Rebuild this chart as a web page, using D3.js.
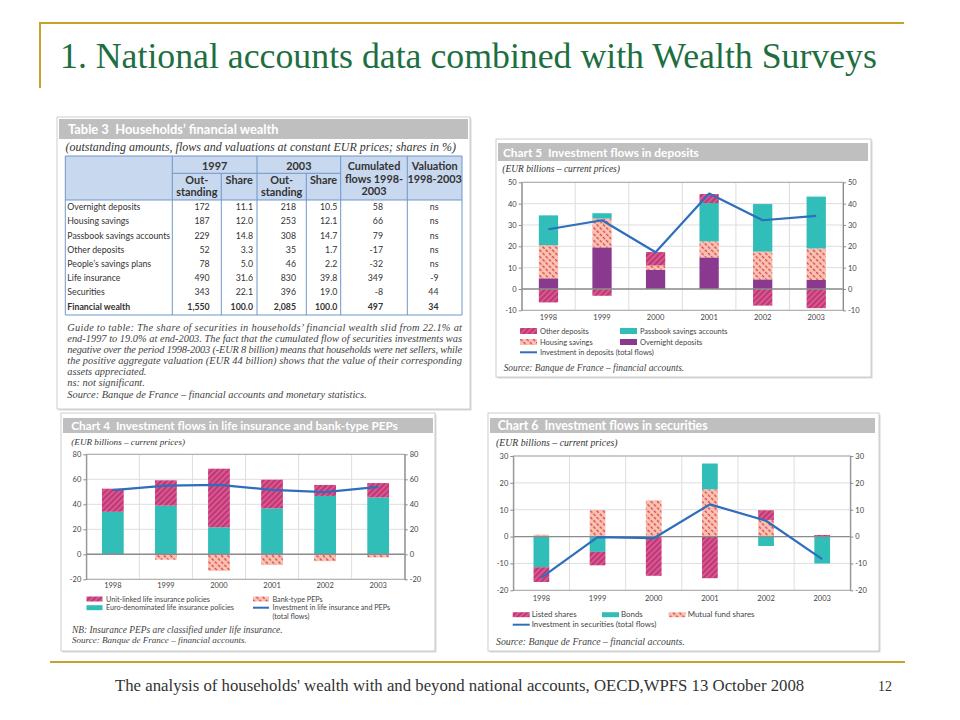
<!DOCTYPE html>
<html><head><meta charset="utf-8">
<script src="https://cdn.jsdelivr.net/npm/d3@7"></script>
<style>body{margin:0;background:#fff}svg{display:block}</style>
</head><body>
<svg id="s" width="960" height="720"></svg>
<script>
// ---------- DATA ----------
const years = ["1998","1999","2000","2001","2002","2003"];

// Chart 5: Investment flows in deposits (EUR bn)
const overnightDeposits = [5, 19.5, 9, 14.8, 4.5, 4.2];
const housingSavings    = [15.5, 13.5, 2, 7.5, 13, 14.8];
const passbookSavings   = [14, 2.5, 0, 18, 22.3, 24.3];
const otherDeposits     = [-6.3, -3.2, 6.3, 4.2, -7.8, -9];
const depositsTotal     = [28, 32.2, 17.2, 44.7, 32.2, 34.3];
const ticks5 = [-10, 0, 10, 20, 30, 40, 50];

// Chart 4: Investment flows in life insurance and bank-type PEPs
const unitLinked    = [18.5, 20.3, 46.9, 22.9, 8.8, 11.5];
const euroLife      = [34, 38.9, 21.6, 36.8, 46.7, 45.5];
const bankPEPs      = [0, -4.3, -13.2, -8.5, -5.5, -2.5];
const lifeTotal     = [51.3, 55, 55.5, 51.5, 49.7, 54];
const ticks4 = [-20, 0, 20, 40, 60, 80];

// Chart 6: Investment flows in securities
const listedShares   = [-5.5, -5, -14.6, -15.5, 3.6, 0.6];
const bonds          = [-11.4, -5.7, 0, 9.6, -3.5, -10];
const mutualFunds    = [0.7, 9.9, 13.5, 17.6, 6.2, 0];
const securitiesTotal= [-15.3, -0.2, -0.6, 12, 5.9, -8.4];
const ticks6 = [-20, -10, 0, 10, 20, 30];

// Table 3: Households' financial wealth
const tableRows = ["Overnight deposits","Housing savings","Passbook savings accounts","Other deposits","People\u2019s savings plans","Life insurance","Securities","Financial wealth"];
const outstanding1997 = ["172","187","229","52","78","490","343","1,550"];
const share1997       = ["11.1","12.0","14.8","3.3","5.0","31.6","22.1","100.0"];
const outstanding2003 = ["218","253","308","35","46","830","396","2,085"];
const share2003       = ["10.5","12.1","14.7","1.7","2.2","39.8","19.0","100.0"];
const cumFlows        = ["58","66","79","-17","-32","349","-8","497"];
const valuation       = ["ns","ns","ns","ns","ns","-9","44","34"];

// ---------- STYLE ----------
const SANS = "Lato, 'Open Sans', sans-serif";
const SERIF = "'Liberation Serif', 'DejaVu Serif', serif";
const TEAL = "#31bdb8", PURPLE = "#8a3a8e", BLUE = "#2e6ebd", GOLD = "#c9a22c";

const svg = d3.select("#s");
const defs = svg.append("defs");
function hatch(id, bg, fg, angle, sw, size, dash) {
  const p = defs.append("pattern").attr("id", id).attr("patternUnits", "userSpaceOnUse")
    .attr("width", size).attr("height", size).attr("patternTransform", `rotate(${angle})`);
  p.append("rect").attr("width", size).attr("height", size).attr("fill", bg);
  const l = p.append("line").attr("x1", size/2).attr("y1", 0).attr("x2", size/2).attr("y2", size)
    .attr("stroke", fg).attr("stroke-width", sw);
  if (dash) l.attr("stroke-dasharray", dash);
}
hatch("pinkHatch", "#e0548f", "#a12d68", 45, 1.3, 4);
hatch("salmonHatch", "#fbc6ab", "#d8406f", -45, 1.4, 4.5, "3 1.5");

function fit(sel, w) {
  const l = sel.node().getComputedTextLength();
  if (l > 0) sel.attr("font-size", parseFloat(sel.attr("font-size")) * w / l);
  return parseFloat(sel.attr("font-size"));
}

// ---------- SLIDE FRAME ----------
svg.append("line").attr("x1", 40).attr("x2", 904).attr("y1", 23).attr("y2", 23).attr("stroke", GOLD).attr("stroke-width", 2);
svg.append("line").attr("x1", 40).attr("x2", 40).attr("y1", 22).attr("y2", 88).attr("stroke", GOLD).attr("stroke-width", 2);
fit(svg.append("text").attr("x", 60).attr("y", 68).attr("font-family", SERIF).attr("font-size", 30)
  .attr("fill", "#1d6f42").text("1. National accounts data combined with Wealth Surveys"), 817);
svg.append("line").attr("x1", 50).attr("x2", 905).attr("y1", 662).attr("y2", 662).attr("stroke", GOLD).attr("stroke-width", 2);
fit(svg.append("text").attr("x", 115).attr("y", 691).attr("font-family", SERIF).attr("font-size", 14)
  .attr("fill", "#333").text("The analysis of households' wealth with and beyond national accounts, OECD,WPFS 13 October 2008"), 690);
svg.append("text").attr("x", 878).attr("y", 691).attr("font-family", SERIF).attr("font-size", 14).attr("fill", "#333").text("12");

function panel(g, p, h) {
  g.append("rect").attr("x", p[0]+1.5).attr("y", p[1]+1.5).attr("width", p[2]).attr("height", p[3]).attr("fill", "#d6d6d6");
  g.append("rect").attr("x", p[0]).attr("y", p[1]).attr("width", p[2]).attr("height", p[3]).attr("fill", "#fff").attr("stroke", "#cdcdcd");
  g.append("rect").attr("x", h[0]).attr("y", h[1]).attr("width", h[2]).attr("height", h[3]).attr("fill", "#bfbfbf");
}

// ---------- TABLE 3 ----------
(function drawTable() {
  const g = svg.append("g");
  panel(g, [57, 117, 413, 292], [59, 119, 409, 20]);
  fit(g.append("text").attr("x", 68).attr("y", 134).attr("font-family", SANS).attr("font-weight", 700)
    .attr("font-size", 12).attr("fill", "#fff").text("Table 3\u2002Households\u2019 financial wealth"), 211);
  fit(g.append("text").attr("x", 65.5).attr("y", 151).attr("font-family", SERIF).attr("font-style", "italic")
    .attr("font-size", 10).attr("fill", "#333")
    .text("(outstanding amounts, flows and valuations at constant EUR prices; shares in %)"), 391);

  const L = 65.3, R = 462, T = 156, YL = 173.3, HB = 200, B = 315;
  const edges = [L, 172.3, 221.3, 257, 306.3, 340.7, 407.3, R];
  const LC = "#7096cb";
  g.append("rect").attr("x", L).attr("y", T).attr("width", R-L).attr("height", HB-T).attr("fill", "#c8d8ee");
  const ln = (x1, y1, x2, y2) => g.append("line").attr("x1", x1).attr("y1", y1).attr("x2", x2).attr("y2", y2).attr("stroke", LC).attr("stroke-width", 1);
  ln(L, T, R, T); ln(L, HB, R, HB); ln(L, B, R, B); ln(L, T, L, B); ln(R, T, R, B);
  ln(edges[1], YL, edges[5], YL);
  [1, 3, 5, 6].forEach(i => ln(edges[i], T, edges[i], B));
  [2, 4].forEach(i => ln(edges[i], YL, edges[i], B));

  const hdr = (t, x, y) => g.append("text").attr("x", x).attr("y", y).attr("text-anchor", "middle")
    .attr("font-family", SANS).attr("font-weight", 700).attr("font-size", 9.5).attr("fill", "#333").text(t);
  const probe = hdr("Cumulated", 374, 169.5);
  const hfs = fit(probe, 52.7);
  const H = (t, x, y) => hdr(t, x, y).attr("font-size", hfs);
  H("1997", (edges[1]+edges[3])/2, 169.5); H("2003", (edges[3]+edges[5])/2, 169.5);
  [[1,2],[3,4]].forEach(([a,b]) => {
    H("Out-", (edges[a]+edges[a+1])/2, 184); H("standing", (edges[a]+edges[a+1])/2, 196);
    H("Share", (edges[b]+edges[b+1])/2, 184);
  });
  H("flows 1998-", (edges[5]+edges[6])/2, 182.5); H("2003", (edges[5]+edges[6])/2, 195);
  H("Valuation", (edges[6]+edges[7])/2, 169.5); H("1998-2003", (edges[6]+edges[7])/2, 182.5);

  const ry = d3.scaleBand().domain(tableRows).range([HB, HB + 14.2*tableRows.length]);
  const probe2 = g.append("text").attr("font-family", SANS).attr("font-size", 9.5).text("Passbook savings accounts");
  const bfs = fit(probe2, 103); probe2.remove();
  const cols = [
    {vals: tableRows, x: 67.3, anchor: "start"},
    {vals: outstanding1997, x: 209.7, anchor: "end"},
    {vals: share1997, x: 253, anchor: "end"},
    {vals: outstanding2003, x: 296, anchor: "end"},
    {vals: share2003, x: 337.3, anchor: "end"},
    {vals: cumFlows, x: 383, anchor: "end"},
    {vals: valuation, x: 438.5, anchor: "end"}
  ];
  cols.forEach(c => {
    g.append("g").selectAll("text").data(tableRows).join("text")
      .attr("x", c.x).attr("y", d => ry(d) + ry.bandwidth()/2 + bfs*0.35)
      .attr("text-anchor", c.anchor).attr("font-family", SANS).attr("font-size", bfs)
      .attr("font-weight", d => d === "Financial wealth" ? 700 : 400)
      .attr("fill", "#333").text((d, i) => c.vals[i]);
  });

  const guide = [
    "Guide to table: The share of securities in households\u2019 financial wealth slid from 22.1% at",
    "end-1997 to 19.0% at end-2003. The fact that the cumulated flow of securities investments was",
    "negative over the period 1998-2003 (-EUR 8 billion) means that households were net sellers, while",
    "the positive aggregate valuation (EUR 44 billion) shows that the value of their corresponding",
    "assets appreciated.",
    "ns: not significant.",
    "Source: Banque de France \u2013 financial accounts and monetary statistics."
  ];
  const gy = [331, 342, 353, 364, 374.5, 386, 397.5];
  const probe3 = g.append("text").attr("font-family", SERIF).attr("font-style", "italic").attr("font-size", 10).text(guide[6]);
  const gfs = fit(probe3, 300); probe3.remove();
  guide.forEach((t, i) => {
    const tx = g.append("text").attr("x", 67.3).attr("y", gy[i]).attr("font-family", SERIF)
      .attr("font-style", "italic").attr("font-size", gfs).attr("fill", "#444").text(t);
    if (i < 4) tx.attr("textLength", 394.7).attr("lengthAdjust", "spacing");
  });
})();

// ---------- CHARTS ----------
function drawChart(c) {
  const g = svg.append("g");
  panel(g, c.panel, c.header);
  fit(g.append("text").attr("x", c.title[1]).attr("y", c.title[2]).attr("font-family", SANS).attr("font-weight", 700)
    .attr("font-size", 12).attr("fill", "#fff").text(c.title[0]), c.title[3]);
  fit(g.append("text").attr("x", c.sub[0]).attr("y", c.sub[1]).attr("font-family", SERIF).attr("font-style", "italic")
    .attr("font-size", 10).attr("fill", "#333").text("(EUR billions \u2013 current prices)"), c.sub[2]);

  const P = c.plot;
  const x = d3.scaleBand().domain(years).range([P.left, P.right]);
  const y = d3.scaleLinear().domain(c.domain).range([P.bottom, P.top]);

  g.append("g").selectAll("line").data(c.ticks).join("line")
    .attr("x1", P.left).attr("x2", P.right).attr("y1", d => y(d)).attr("y2", d => y(d)).attr("stroke", "#dedede");
  g.append("g").selectAll("line").data(years.slice(1)).join("line")
    .attr("x1", d => x(d)).attr("x2", d => x(d)).attr("y1", P.top).attr("y2", P.bottom).attr("stroke", "#dedede");

  const byKey = k => c.series.find(s => s.key === k);
  const segs = [];
  years.forEach((yr, i) => {
    let pos = 0, neg = 0;
    c.posOrder.forEach(k => { const s = byKey(k), v = s.values[i]; if (v > 0) { segs.push({yr, s, y0: pos, y1: pos + v}); pos += v; } });
    c.negOrder.forEach(k => { const s = byKey(k), v = s.values[i]; if (v < 0) { segs.push({yr, s, y0: neg, y1: neg + v}); neg += v; } });
  });
  const bw = x.bandwidth() * c.barFrac;
  g.append("g").selectAll("rect").data(segs).join("rect")
    .attr("x", d => x(d.yr) + (x.bandwidth() - bw)/2).attr("width", bw)
    .attr("y", d => y(Math.max(d.y0, d.y1))).attr("height", d => Math.abs(y(d.y0) - y(d.y1)))
    .attr("fill", d => d.s.fill);

  g.append("line").attr("x1", P.left).attr("x2", P.right).attr("y1", y(0)).attr("y2", y(0))
    .attr("stroke", "#8c8c8c").attr("stroke-width", 1.4);
  g.append("rect").attr("x", P.left).attr("y", P.top).attr("width", P.right - P.left).attr("height", P.bottom - P.top)
    .attr("fill", "none").attr("stroke", "#a8a8a8");

  const fmt = d => String(d);
  const la = g.append("g").attr("transform", `translate(${P.left},0)`)
    .call(d3.axisLeft(y).tickValues(c.ticks).tickFormat(fmt).tickSize(3).tickSizeOuter(0).tickPadding(2));
  const ra = g.append("g").attr("transform", `translate(${P.right},0)`)
    .call(d3.axisRight(y).tickValues(c.ticks).tickFormat(fmt).tickSize(3).tickSizeOuter(0).tickPadding(2));
  const ba = g.append("g").attr("transform", `translate(0,${P.bottom})`)
    .call(d3.axisBottom(x).tickSize(0).tickPadding(c.xPad));
  ba.select(".domain").remove();
  [la, ra, ba].forEach(a => {
    a.selectAll("text").attr("font-family", SANS).attr("font-size", 7.5).attr("fill", "#444");
    a.selectAll("path,line").attr("stroke", "#8c8c8c");
  });

  g.append("path").datum(c.line)
    .attr("d", d3.line().x((d, i) => x(years[i]) + x.bandwidth()/2).y(d => y(d)))
    .attr("fill", "none").attr("stroke", BLUE).attr("stroke-width", 2.2).attr("stroke-linejoin", "round");

  const pr = g.append("text").attr("font-family", SANS).attr("font-size", 8).text(c.legendFit[0]);
  const lfs = fit(pr, c.legendFit[1]); pr.remove();
  c.legend.forEach(it => {
    if (it.kind === "line") {
      g.append("line").attr("x1", it.x).attr("x2", it.x + c.sw).attr("y1", it.y).attr("y2", it.y)
        .attr("stroke", BLUE).attr("stroke-width", 2);
    } else if (it.kind !== "text") {
      g.append("rect").attr("x", it.x).attr("y", it.y - c.sh/2).attr("width", c.sw).attr("height", c.sh)
        .attr("fill", byKey(it.label).fill);
    }
    g.append("text").attr("x", it.x + c.lOff).attr("y", it.y + lfs*0.35).attr("font-family", SANS)
      .attr("font-size", lfs).attr("fill", "#444").text(it.label);
  });
  c.notes.forEach(n => {
    fit(g.append("text").attr("x", n[1]).attr("y", n[2]).attr("font-family", SERIF).attr("font-style", "italic")
      .attr("font-size", 10).attr("fill", "#444").text(n[0]), n[3]);
  });
}

drawChart({
  panel: [496, 139, 375, 238], header: [498, 143, 370, 18],
  title: ["Chart 5\u2002Investment flows in deposits", 503, 157, 196],
  sub: [502.3, 172, 117.7],
  plot: {left: 521.7, right: 843, top: 182.3, bottom: 310.3},
  domain: [-10, 50], ticks: ticks5, barFrac: 0.36, xPad: 4,
  series: [
    {key: "Other deposits", values: otherDeposits, fill: "url(#pinkHatch)"},
    {key: "Housing savings", values: housingSavings, fill: "url(#salmonHatch)"},
    {key: "Passbook savings accounts", values: passbookSavings, fill: TEAL},
    {key: "Overnight deposits", values: overnightDeposits, fill: PURPLE}
  ],
  posOrder: ["Overnight deposits", "Housing savings", "Passbook savings accounts", "Other deposits"],
  negOrder: ["Other deposits", "Overnight deposits", "Housing savings", "Passbook savings accounts"],
  line: depositsTotal,
  legendFit: ["Investment in deposits (total flows)", 114], sw: 17, sh: 6, lOff: 20,
  legend: [
    {label: "Other deposits", x: 520, y: 331}, {label: "Passbook savings accounts", x: 620, y: 331},
    {label: "Housing savings", x: 520, y: 342}, {label: "Overnight deposits", x: 620, y: 342},
    {label: "Investment in deposits (total flows)", x: 520, y: 352.3, kind: "line"}
  ],
  notes: [["Source: Banque de France \u2013 financial accounts.", 503.7, 370.5, 180.7]]
});

drawChart({
  panel: [61, 413, 374, 238], header: [63, 418, 370, 15],
  title: ["Chart 4\u2002Investment flows in life insurance and bank-type PEPs", 71.3, 429.5, 327],
  sub: [71.3, 444.5, 114],
  plot: {left: 86.3, right: 404.7, top: 454.3, bottom: 579.3},
  domain: [-20, 80], ticks: ticks4, barFrac: 0.41, xPad: 3,
  series: [
    {key: "Unit-linked life insurance policies", values: unitLinked, fill: "url(#pinkHatch)"},
    {key: "Euro-denominated life insurance policies", values: euroLife, fill: TEAL},
    {key: "Bank-type PEPs", values: bankPEPs, fill: "url(#salmonHatch)"}
  ],
  posOrder: ["Euro-denominated life insurance policies", "Unit-linked life insurance policies", "Bank-type PEPs"],
  negOrder: ["Bank-type PEPs", "Euro-denominated life insurance policies", "Unit-linked life insurance policies"],
  line: lifeTotal,
  legendFit: ["Euro-denominated life insurance policies", 128], sw: 16, sh: 5, lOff: 19.5,
  legend: [
    {label: "Unit-linked life insurance policies", x: 86.5, y: 599}, {label: "Bank-type PEPs", x: 253, y: 599},
    {label: "Euro-denominated life insurance policies", x: 86.5, y: 607.7},
    {label: "Investment in life insurance and PEPs", x: 253, y: 607.7, kind: "line"},
    {label: "(total flows)", x: 253, y: 616.2, kind: "text"}
  ],
  notes: [["NB: Insurance PEPs are classified under life insurance.", 72, 632.5, 210.7],
          ["Source: Banque de France \u2013 financial accounts.", 72, 642.5, 175]]
});

drawChart({
  panel: [488, 413, 391, 238], header: [490, 418, 385, 15],
  title: ["Chart 6\u2002Investment flows in securities", 497.7, 429.5, 210],
  sub: [496, 445.5, 121.7],
  plot: {left: 513.3, right: 850.3, top: 456, bottom: 590.3},
  domain: [-20, 30], ticks: ticks6, barFrac: 0.28, xPad: 5.5,
  series: [
    {key: "Listed shares", values: listedShares, fill: "url(#pinkHatch)"},
    {key: "Bonds", values: bonds, fill: TEAL},
    {key: "Mutual fund shares", values: mutualFunds, fill: "url(#salmonHatch)"}
  ],
  posOrder: ["Mutual fund shares", "Listed shares", "Bonds"],
  negOrder: ["Bonds", "Listed shares", "Mutual fund shares"],
  line: securitiesTotal,
  legendFit: ["Investment in securities (total flows)", 125], sw: 17, sh: 5, lOff: 19,
  legend: [
    {label: "Listed shares", x: 512.7, y: 614.7}, {label: "Bonds", x: 602, y: 614.7},
    {label: "Mutual fund shares", x: 668.7, y: 614.7},
    {label: "Investment in securities (total flows)", x: 512.7, y: 624.7, kind: "line"}
  ],
  notes: [["Source: Banque de France \u2013 financial accounts.", 496, 644.5, 189]]
});
</script>
</body></html>
